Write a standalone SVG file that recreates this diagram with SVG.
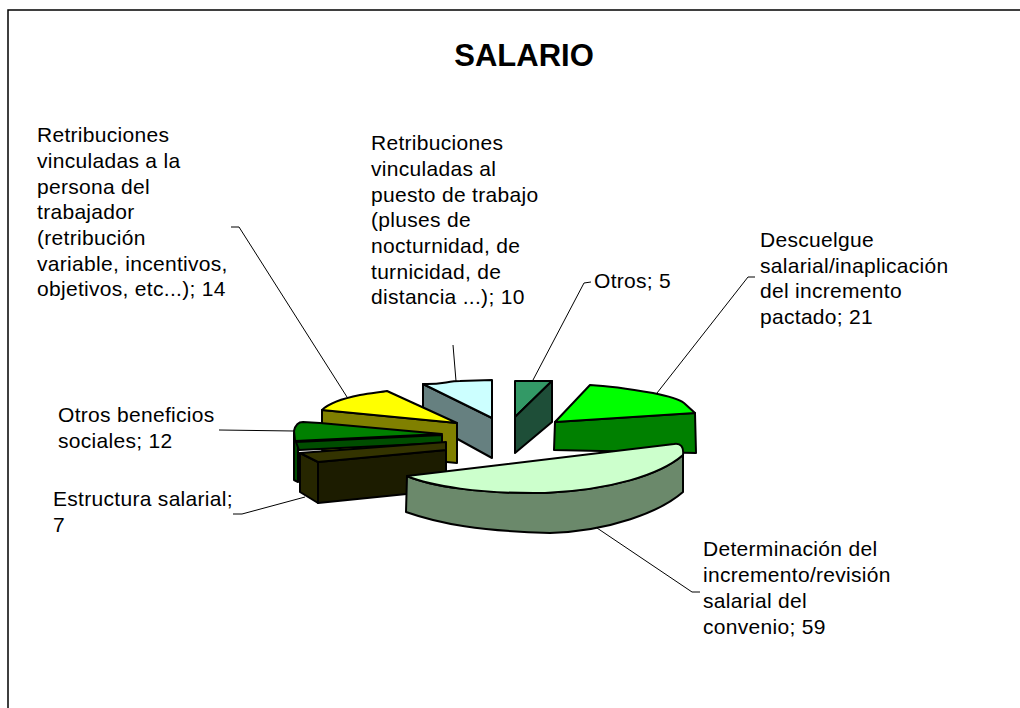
<svg xmlns="http://www.w3.org/2000/svg" width="1020" height="708" viewBox="0 0 1020 708">
<style>
text{font-family:"Liberation Sans",Arial,sans-serif;font-size:21px;letter-spacing:0.3px;fill:#000}
.title{font-size:31px;font-weight:bold;letter-spacing:0}
.s{stroke:#000;stroke-width:2;stroke-linejoin:round}
.lead{fill:none;stroke:#000;stroke-width:1}
</style>
<rect x="0" y="0" width="1020" height="708" fill="#fff"/>
<rect x="8" y="10" width="1100" height="800" fill="none" stroke="#000" stroke-width="1.5"/>
<text class="title" x="524" y="66" text-anchor="middle">SALARIO</text>

<g id="connectors">
<path class="lead" d="M231,227 L239,227 L347,397"/>
<path class="lead" d="M453,345 L456,381"/>
<path class="lead" d="M591,282 L584,283 L533,380"/>
<path class="lead" d="M755,277 L748,277 L657,393"/>
<path class="lead" d="M700,592 L692,592 L597,528"/>
<path class="lead" d="M219,430 L294,431"/>
<path class="lead" d="M233,514 L242,514 L305,497"/>
</g>

<g id="slice-otros">
<path class="s" fill="#339966" d="M515,381 L552,381 L515,417 Z"/>
<path class="s" fill="#1E4E38" d="M515,417 L552,381 L552,422 L515,453 Z"/>
</g>
<g id="slice-puesto">
<path class="s" fill="#668080" d="M423,384 L492,418 L492,458 L423,420 Z"/>
<path class="s" fill="#CCFFFF" d="M423,384 C440,385 448,381 460,381 L492,380 L492,418 Z"/>
</g>
<g id="slice-descuelgue">
<path class="s" fill="#008000" d="M555,422 L695,413 L696,453 L554,450 Z"/>
<path class="s" fill="#00FF00" d="M555,422 L590,385 C610,386 630,389 653,393 C668,396 680,400 684,403 L695,413 Z"/>
</g>
<g id="slice-persona">
<path class="s" fill="#808000" d="M322,410 L457,423 L457,463 L322,450 Z"/>
<path class="s" fill="#FFFF00" d="M322,410 C330,402 345,398 360,395 C372,393 382,392 387,391 L457,423 Z"/>
</g>
<g id="slice-beneficios">
<path class="s" fill="#004D00" d="M294,433 L294,480 L298,482 L298,441 Z"/>
<path class="s" fill="#004D00" d="M296,442 L442,435 L442,443 L299,450 Z"/>
<path class="s" fill="#008000" d="M295,441 L294,431 Q296,422 303,422 L320,423 L442,434 Z"/>
</g>
<g id="slice-estructura">
<path class="s" fill="#262600" d="M300,453 L318,462 L318,503 L300,492 Z"/>
<path class="s" fill="#1C1C00" d="M318,462 L446,450 L446,490 L318,503 Z"/>
<path class="s" fill="#333300" d="M300,453 L446,442 L446,450 L318,462 Z"/>
</g>
<g id="slice-determinacion">
<path class="s" fill="#6B896B" d="M407,476 L406,512 C440,524 480,531 550,533 C610,531 660,512 683,492 L683,455 C660,475 610,490 545,493 C480,494 430,486 407,476 Z"/>
<path class="s" fill="#CCFFCC" d="M407,476 L674,444 C681,443 684,447 683,455 C660,475 610,490 545,493 C480,494 430,486 407,476 Z"/>
</g>

<g id="label-persona">
<text x="37" y="142">Retribuciones</text>
<text x="37" y="168">vinculadas a la</text>
<text x="37" y="194">persona del</text>
<text x="37" y="219">trabajador</text>
<text x="37" y="245">(retribución</text>
<text x="37" y="271">variable, incentivos,</text>
<text x="37" y="296">objetivos, etc...); 14</text>
</g>
<g id="label-puesto">
<text x="371" y="150">Retribuciones</text>
<text x="371" y="176">vinculadas al</text>
<text x="371" y="202">puesto de trabajo</text>
<text x="371" y="227">(pluses de</text>
<text x="371" y="253">nocturnidad, de</text>
<text x="371" y="279">turnicidad, de</text>
<text x="371" y="304">distancia ...); 10</text>
</g>
<g id="label-otros"><text x="594" y="288">Otros; 5</text></g>
<g id="label-descuelgue">
<text x="760" y="247">Descuelgue</text>
<text x="760" y="273">salarial/inaplicación</text>
<text x="760" y="298">del incremento</text>
<text x="760" y="324">pactado; 21</text>
</g>
<g id="label-beneficios">
<text x="58" y="422">Otros beneficios</text>
<text x="58" y="448">sociales; 12</text>
</g>
<g id="label-estructura">
<text x="53" y="506">Estructura salarial;</text>
<text x="53" y="532">7</text>
</g>
<g id="label-determinacion">
<text x="703" y="556">Determinación del</text>
<text x="703" y="582">incremento/revisión</text>
<text x="703" y="608">salarial del</text>
<text x="703" y="634">convenio; 59</text>
</g>
</svg>
